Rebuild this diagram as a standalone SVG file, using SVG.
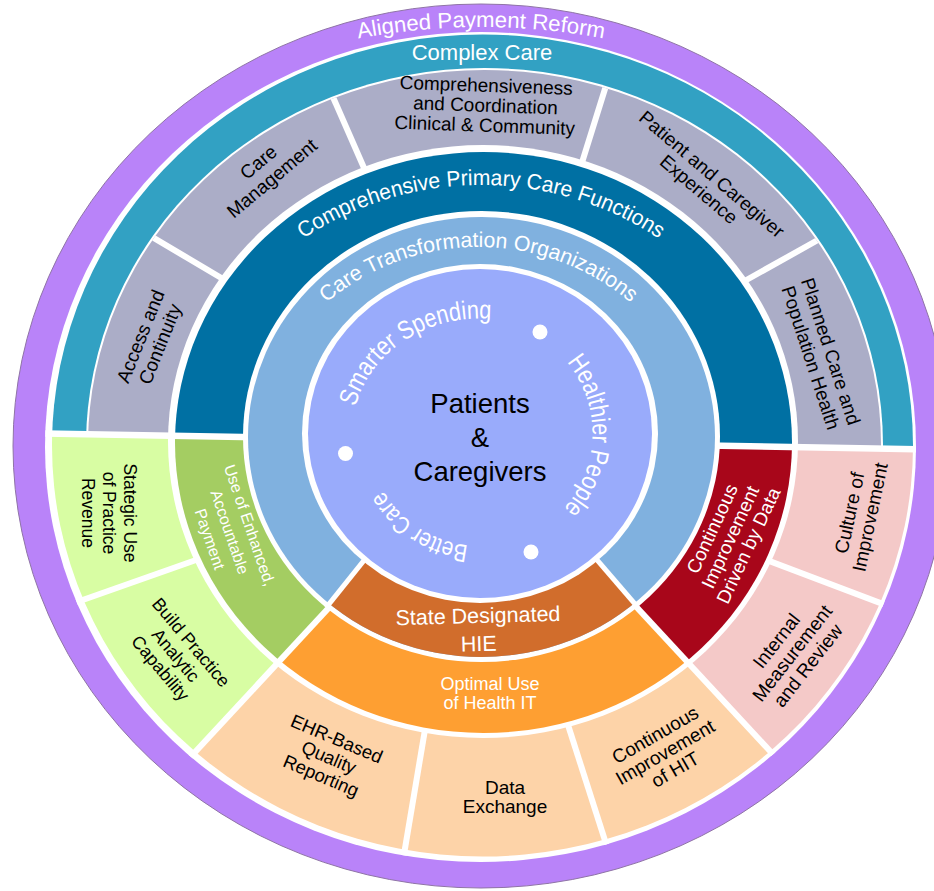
<svg xmlns="http://www.w3.org/2000/svg" width="934" height="891" viewBox="0 0 934 891">
<defs>
<style>
text { font-family: "Liberation Sans", Arial, sans-serif; }
.w { fill: #ffffff; }
.k { fill: #000000; }
.gap { stroke: #ffffff; fill: none; }
.mid { text-anchor: middle; }
</style>
<clipPath id="cUp"><polygon points="-60,-60 1000,-60 1000,450.7 -60,431.7"/></clipPath>
<clipPath id="cLL"><polygon points="483,441.4 -60,431.7 -89,1058.6"/></clipPath>
<clipPath id="cBot"><polygon points="483,441.4 -89,1058.6 1055,1058.6"/></clipPath>
<clipPath id="cLR"><polygon points="483,441.4 1055,1058.6 1000,450.7"/></clipPath>
<clipPath id="cBrown"><polygon points="476.5,420 226.5,732 737.5,723"/></clipPath>
<clipPath id="cPin"><ellipse cx="480.5" cy="447" rx="435.5" ry="415"/></clipPath>
<clipPath id="cG"><ellipse cx="484.5" cy="445" rx="396.5" ry="375"/></clipPath>
<clipPath id="cDBin"><ellipse cx="481.5" cy="436.5" rx="238.5" ry="225.5"/></clipPath>
<path id="pAligned" d="M181,98.8 A663,663 0 0 1 781,98.8"/>
<path id="pCPCF" d="M181,390.9 A321.5,321.5 0 0 1 781,390.9"/>
<path id="pCTO" d="M258.5,398.1 A235.7,235.7 0 0 1 698.5,398.1"/>
<path id="pSmart" d="M352,433.5 A128,115 0 0 1 608,433.5"/>
<path id="pCirc" d="M367.5,433.5 A112.5,112.5 0 1 1 592.5,433.5 A112.5,112.5 0 1 1 367.5,433.5"/>
</defs>

<g id="ring-payment">
<ellipse cx="481" cy="446" rx="468" ry="442" fill="#B983F9" stroke="#8F74A6" stroke-width="1"/>
<ellipse cx="480.5" cy="447" rx="435.5" ry="415" fill="#ffffff"/>
</g>

<g id="band-outer">
<ellipse cx="482.5" cy="445.5" rx="430.5" ry="411" fill="#32A1C3" clip-path="url(#cUp)"/>
<ellipse cx="482.5" cy="445.5" rx="430.5" ry="411" fill="#D8FDA3" clip-path="url(#cLL)"/>
<ellipse cx="482.5" cy="445.5" rx="430.5" ry="411" fill="#FDD3A8" clip-path="url(#cBot)"/>
<ellipse cx="482.5" cy="445.5" rx="430.5" ry="411" fill="#F4C9C8" clip-path="url(#cLR)"/>
</g>

<g id="outer-dividers" class="gap" stroke-width="6" clip-path="url(#cPin)">
<line x1="40" y1="615" x2="230" y2="548"/>
<line x1="398" y1="890" x2="430" y2="700"/>
<line x1="617" y1="878" x2="560" y2="700"/>
<line x1="920" y1="618" x2="740" y2="550"/>
</g>

<g id="band-gray" clip-path="url(#cUp)">
<ellipse cx="484.5" cy="445" rx="398.5" ry="377" fill="#ffffff"/>
<ellipse cx="484.5" cy="445" rx="396.5" ry="375" fill="#ABADC7"/>
</g>

<g id="gray-dividers" class="gap" stroke-width="6" clip-path="url(#cG)">
<line x1="110" y1="212" x2="250" y2="295"/>
<line x1="322" y1="72" x2="375" y2="193"/>
<line x1="614" y1="60" x2="575" y2="185"/>
<line x1="850" y1="222" x2="725" y2="292"/>
</g>

<g id="band-functions">
<ellipse cx="483" cy="441.5" rx="315" ry="296.5" fill="#ffffff"/>
<ellipse cx="483.5" cy="442.5" rx="308.5" ry="290.5" fill="#0070A3" clip-path="url(#cUp)"/>
<ellipse cx="483.5" cy="442.5" rx="308.5" ry="290.5" fill="#A4CD62" clip-path="url(#cLL)"/>
<ellipse cx="483.5" cy="442.5" rx="308.5" ry="290.5" fill="#FE9F32" clip-path="url(#cBot)"/>
<ellipse cx="483.5" cy="442.5" rx="308.5" ry="290.5" fill="#A8061A" clip-path="url(#cLR)"/>
</g>

<g id="band-dividers" class="gap" clip-path="url(#cPin)">
<line x1="-60" y1="431.7" x2="1000" y2="450.7" stroke-width="6.5"/>
<line x1="483" y1="441.4" x2="-89" y2="1058.6" stroke-width="6"/>
<line x1="483" y1="441.4" x2="1055" y2="1058.6" stroke-width="6"/>
</g>

<g id="band-cto">
<ellipse cx="481.5" cy="436.5" rx="238.5" ry="225.5" fill="#ffffff"/>
<ellipse cx="481.5" cy="437" rx="233.5" ry="220" fill="#80B1DF"/>
<ellipse cx="481.5" cy="437" rx="233.5" ry="220" fill="#D16D2C" clip-path="url(#cBrown)"/>
</g>

<g id="hie-dividers" class="gap" stroke-width="5" clip-path="url(#cDBin)">
<line x1="476.5" y1="420" x2="226.5" y2="732"/>
<line x1="476.5" y1="420" x2="737.5" y2="723"/>
</g>

<g id="core">
<ellipse cx="480" cy="433.5" rx="178" ry="169.5" fill="#ffffff"/>
<ellipse cx="480" cy="433.5" rx="172" ry="164.5" fill="#99ABFB"/>
<circle cx="540" cy="332" r="7.5" fill="#ffffff"/>
<circle cx="345.5" cy="453.5" r="7.5" fill="#ffffff"/>
<circle cx="531" cy="552" r="7.5" fill="#ffffff"/>
</g>

<g id="label-aligned-payment-reform">
<text class="w" font-size="22" text-anchor="middle"><textPath href="#pAligned" startOffset="50%" textLength="247" lengthAdjust="spacingAndGlyphs">Aligned Payment Reform</textPath></text>
</g>
<g id="label-complex-care">
<text class="w mid" font-size="22" x="482" y="60">Complex Care</text>
</g>
<g id="label-cpcf">
<text class="w" font-size="22" text-anchor="middle"><textPath href="#pCPCF" startOffset="50%" textLength="377" lengthAdjust="spacingAndGlyphs">Comprehensive Primary Care Functions</textPath></text>
</g>
<g id="label-cto">
<text class="w" font-size="21.5" text-anchor="middle"><textPath href="#pCTO" startOffset="50%" textLength="331" lengthAdjust="spacingAndGlyphs">Care Transformation Organizations</textPath></text>
</g>

<g id="node-access">
<text class="k mid" font-size="19" transform="translate(150,340) rotate(-68)"><tspan x="0" y="-3.7">Access and</tspan><tspan x="0" y="17.3">Continuity</tspan></text>
</g>
<g id="node-care-management">
<text class="k mid" font-size="19" transform="translate(265,170) rotate(-40)"><tspan x="0" y="-3.7">Care</tspan><tspan x="0" y="17.3">Management</tspan></text>
</g>
<g id="node-comprehensiveness">
<text class="k mid" font-size="19" transform="translate(485.5,105) rotate(2)"><tspan x="0" y="-13.2">Comprehensiveness</tspan><tspan x="0" y="6.8">and Coordination</tspan><tspan x="0" y="26.8">Clinical &amp; Community</tspan></text>
</g>
<g id="node-patient-experience">
<text class="k mid" font-size="19" transform="translate(705.5,181.5) rotate(40.5)"><tspan x="0" y="-3.2">Patient and Caregiver</tspan><tspan x="0" y="16.8">Experience</tspan></text>
</g>
<g id="node-planned-care">
<text class="k mid" font-size="19" transform="translate(821,354.5) rotate(72)"><tspan x="0" y="-3.7">Planned Care and</tspan><tspan x="0" y="17.3">Population Health</tspan></text>
</g>

<g id="node-strategic-revenue">
<text class="k mid" font-size="17.5" transform="translate(109.5,513) rotate(90)"><tspan x="0" y="-14.7">Stategic Use</tspan><tspan x="0" y="6.3">of Practice</tspan><tspan x="0" y="27.3">Revenue</tspan></text>
</g>
<g id="node-analytic-capability">
<text class="k mid" font-size="18" transform="translate(176,655) rotate(50)"><tspan x="0" y="-13.5">Build Practice</tspan><tspan x="0" y="6.5">Analytic</tspan><tspan x="0" y="26.5">Capability</tspan></text>
</g>
<g id="node-accountable-payment">
<text class="w mid" font-size="16" transform="translate(230,532) rotate(71)"><tspan x="0" y="-15.2">Use of Enhanced,</tspan><tspan x="0" y="5.8">Accountable</tspan><tspan x="0" y="26.8">Payment</tspan></text>
</g>
<g id="node-hie">
<text class="w mid" font-size="21.5" transform="rotate(-1.5,478.5,637)"><tspan x="478.5" y="623">State Designated</tspan><tspan x="478.5" y="651">HIE</tspan></text>
</g>
<g id="node-health-it">
<text class="w mid" font-size="18"><tspan x="490" y="690">Optimal Use</tspan><tspan x="490" y="709">of Health IT</tspan></text>
</g>
<g id="node-ehr-reporting">
<text class="k mid" font-size="18.5" transform="translate(329,757) rotate(23)"><tspan x="0" y="-13.3">EHR-Based</tspan><tspan x="0" y="6.7">Quality</tspan><tspan x="0" y="26.7">Reporting</tspan></text>
</g>
<g id="node-data-exchange">
<text class="k mid" font-size="19"><tspan x="505" y="794">Data</tspan><tspan x="505" y="813">Exchange</tspan></text>
</g>
<g id="node-hit-improvement">
<text class="k mid" font-size="19" transform="translate(665,752) rotate(-30)"><tspan x="0" y="-13.2">Continuous</tspan><tspan x="0" y="6.8">Improvement</tspan><tspan x="0" y="26.8">of HIT</tspan></text>
</g>
<g id="node-culture">
<text class="k mid" font-size="19" transform="translate(859.5,515) rotate(-78)"><tspan x="0" y="-3.7">Culture of</tspan><tspan x="0" y="17.3">Improvement</tspan></text>
</g>
<g id="node-internal-review">
<text class="k mid" font-size="19" transform="translate(792,653) rotate(-52)"><tspan x="0" y="-13.2">Internal</tspan><tspan x="0" y="6.8">Measurement</tspan><tspan x="0" y="26.8">and Review</tspan></text>
</g>
<g id="node-data-driven">
<text class="w mid" font-size="19" transform="translate(730,537) rotate(-65)"><tspan x="0" y="-13.2">Continuous</tspan><tspan x="0" y="6.8">Improvement</tspan><tspan x="0" y="26.8">Driven by Data</tspan></text>
</g>

<g id="node-patients">
<text class="k mid" font-size="27.5"><tspan x="480" y="413">Patients</tspan><tspan x="480" y="447">&amp;</tspan><tspan x="480" y="481">Caregivers</tspan></text>
</g>
<g id="label-smarter-spending">
<text class="w" font-size="26" text-anchor="middle"><textPath href="#pSmart" startOffset="30%" textLength="175" lengthAdjust="spacingAndGlyphs">Smarter Spending</textPath></text>
</g>
<g id="label-healthier-people">
<text class="w" font-size="26" text-anchor="middle"><textPath href="#pCirc" startOffset="50.35%" textLength="160" lengthAdjust="spacingAndGlyphs">Healthier People</textPath></text>
</g>
<g id="label-better-care">
<text class="w" font-size="25" text-anchor="middle"><textPath href="#pCirc" startOffset="84.1%" textLength="105" lengthAdjust="spacingAndGlyphs">Better Care</textPath></text>
</g>
</svg>
